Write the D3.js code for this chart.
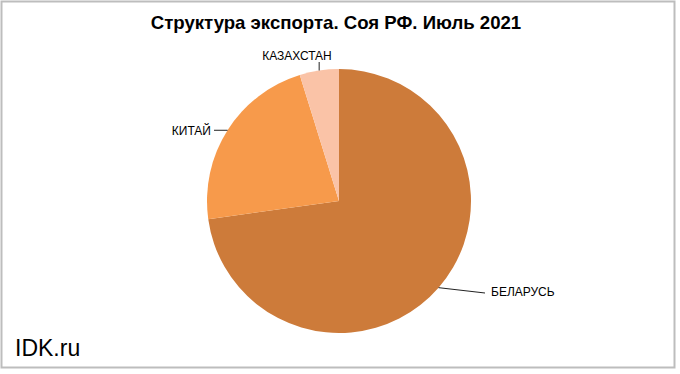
<!DOCTYPE html>
<html>
<head>
<meta charset="utf-8">
<script src="https://cdn.jsdelivr.net/npm/d3@7"></script>
<style>
  body { margin: 0; background: #fff; }
  text { font-family: "Liberation Sans", Arial, sans-serif; }
</style>
</head>
<body>
<div id="chart"></div>
<script>
// export structure, soy, July 2021 (shares in %)
var countries = ["БЕЛАРУСЬ", "КИТАЙ", "КАЗАХСТАН"];
var shares = [72.8, 22.4, 4.8];
var colors = ["#cd7b3a", "#f79a4b", "#fac3a7"];

var W = 680, H = 374;
var cx = 339, cy = 201, r = 132;

var svg = d3.select("#chart").append("svg")
  .attr("width", W).attr("height", H);

// chart frame
svg.append("rect")
  .attr("x", 1.5).attr("y", 1.5)
  .attr("width", 673).attr("height", 366)
  .attr("fill", "#fff")
  .attr("stroke", "#bdbdbd")
  .attr("stroke-width", 2);

svg.append("text")
  .attr("x", 336).attr("y", 29)
  .attr("text-anchor", "middle")
  .style("font-size", "18.6px")
  .style("font-weight", "bold")
  .text("Структура экспорта. Соя РФ. Июль 2021");

var data = countries.map(function (c, i) { return { name: c, value: shares[i], color: colors[i] }; });

var pie = d3.pie().sort(null).value(function (d) { return d.value; });
var arc = d3.arc().innerRadius(0).outerRadius(r);
var arcs = pie(data);

var g = svg.append("g").attr("transform", "translate(" + cx + "," + cy + ")");

g.selectAll("path.slice")
  .data(arcs)
  .enter()
  .append("path")
    .attr("class", "slice")
    .attr("d", arc)
    .attr("fill", function (d) { return d.data.color; });

// point on the rim at the middle of a slice
function rim(d) {
  var a = (d.startAngle + d.endAngle) / 2;
  return [r * Math.sin(a), -r * Math.cos(a)];
}

// leader lines and labels: each label sits off to a side of its slice
var labelPos = {
  "БЕЛАРУСЬ":  { line: [146, 92], text: [152, 95], anchor: "start" },
  "КИТАЙ":     { line: [-125, -71], text: [-128, -66], anchor: "end" },
  "КАЗАХСТАН": { line: [-20, -139], text: [-42, -141], anchor: "middle" }
};

arcs.forEach(function (d) {
  var p = rim(d);
  var lp = labelPos[d.data.name];
  var pts = [p];
  if (d.data.name === "КИТАЙ") pts = [p, [lp.line[0], p[1]]];
  else if (d.data.name === "КАЗАХСТАН") pts = [p, [p[0], lp.line[1]]];
  else pts = [p, lp.line];
  g.append("path")
    .attr("d", d3.line()(pts))
    .attr("fill", "none")
    .attr("stroke", "#222")
    .attr("stroke-width", 1);
  g.append("text")
    .attr("x", lp.text[0]).attr("y", lp.text[1])
    .attr("text-anchor", lp.anchor)
    .style("font-size", "12px")
    .attr("fill", "#000")
    .text(d.data.name);
});

svg.append("text")
  .attr("x", 15).attr("y", 356)
  .style("font-size", "23px")
  .text("IDK.ru");
</script>
</body>
</html>
